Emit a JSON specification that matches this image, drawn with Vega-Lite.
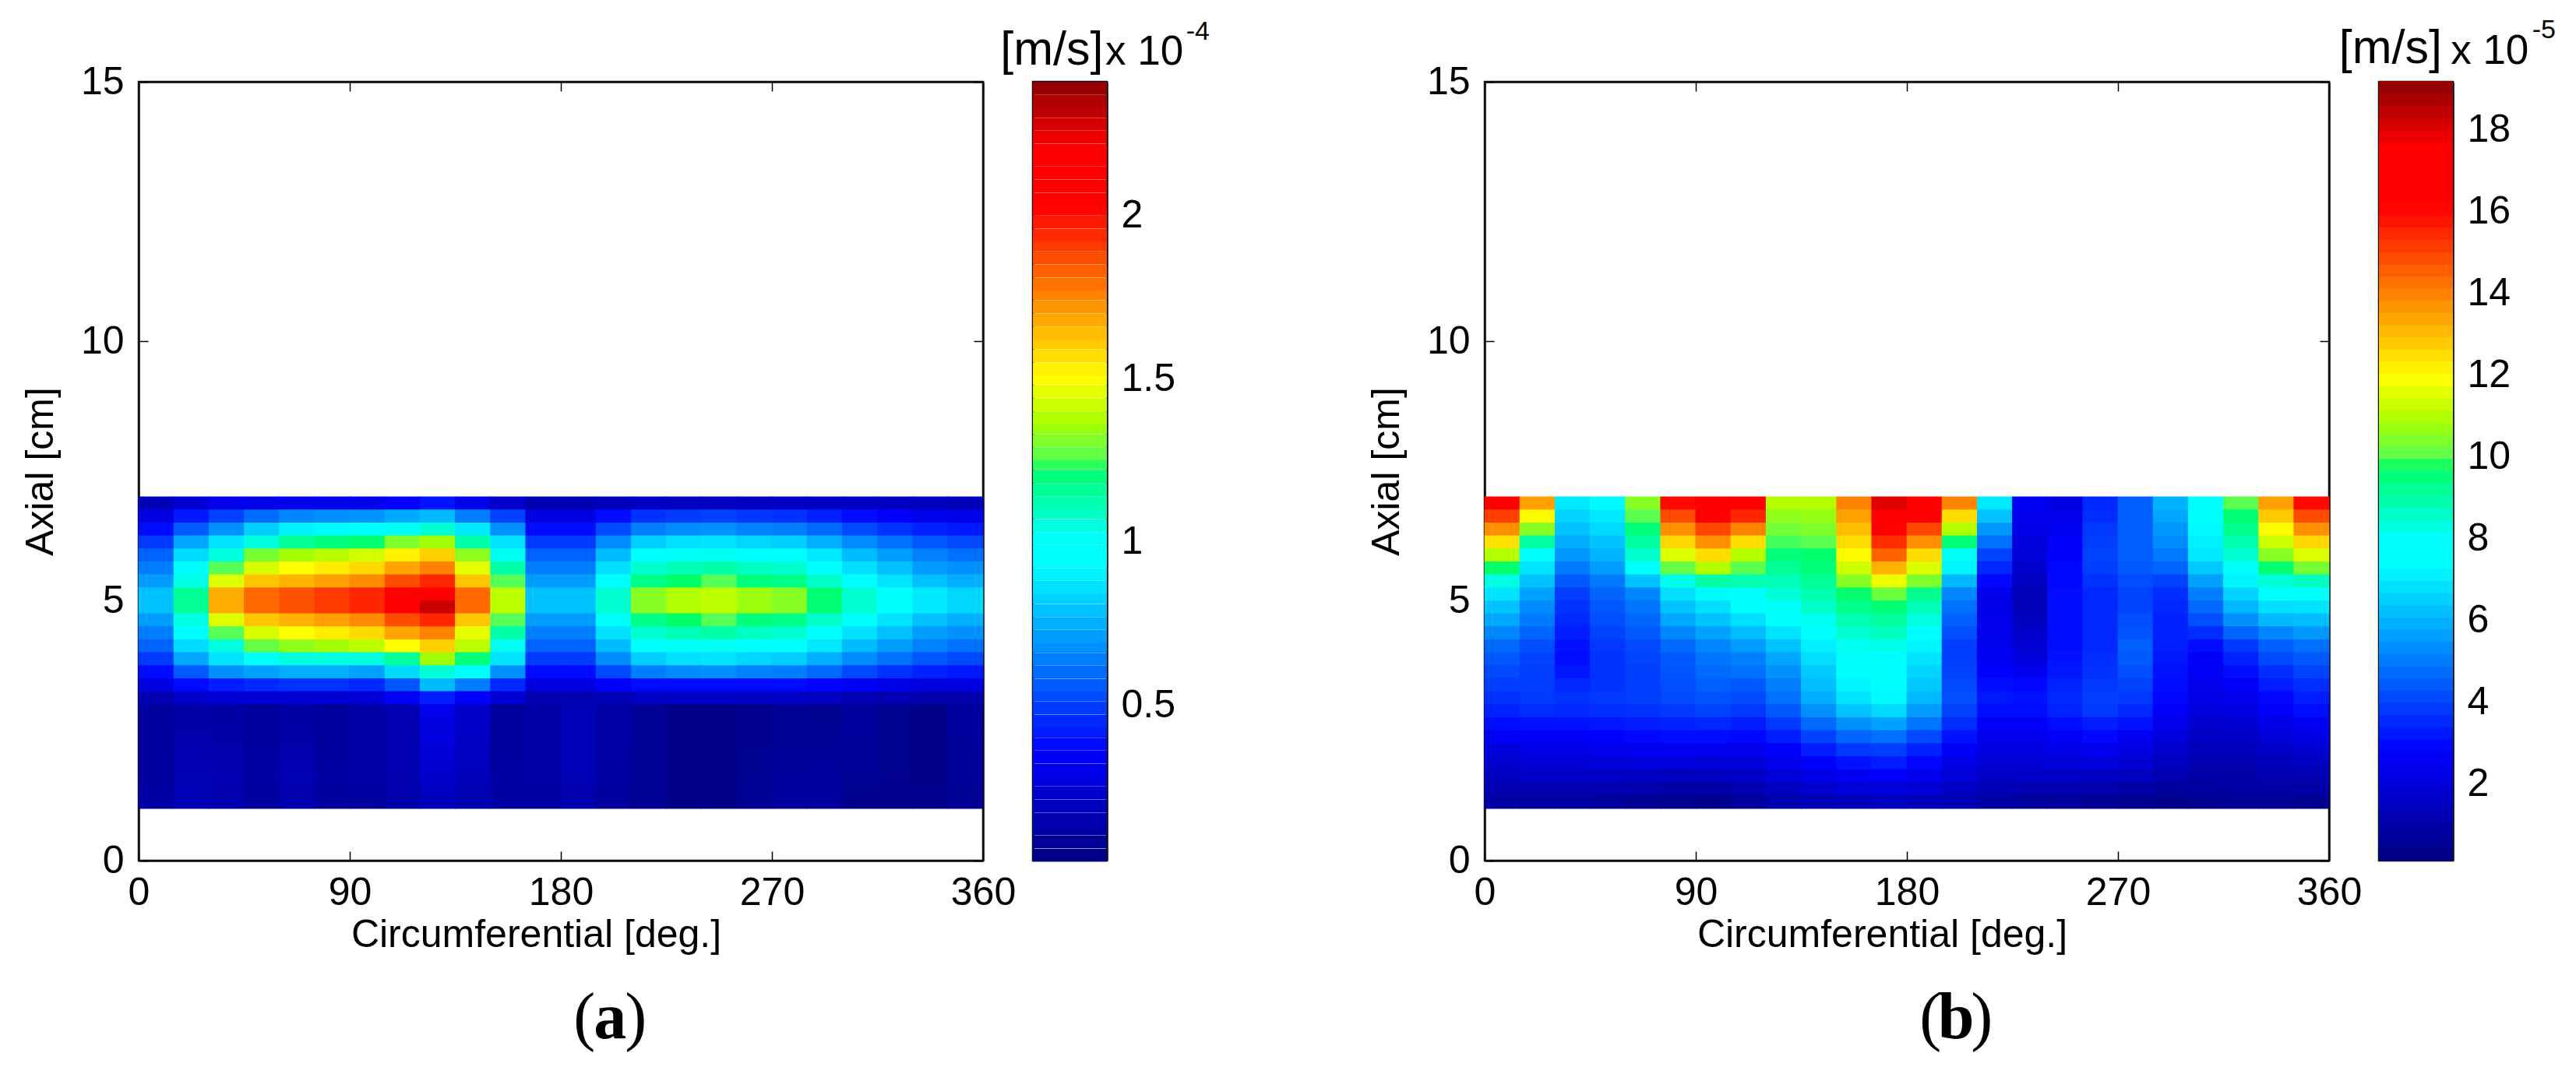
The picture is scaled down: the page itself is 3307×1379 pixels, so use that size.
{"$schema":"https://vega.github.io/schema/vega-lite/v6.json","background":"white","padding":{"left":26,"top":20,"right":0,"bottom":0},"config":{"view":{"stroke":"#111","strokeWidth":2.5},"font":"Liberation Sans","axis":{"labelFont":"Liberation Sans","titleFont":"Liberation Sans","labelFontSize":50,"titleFontSize":50,"labelColor":"#000","titleColor":"#000","tickColor":"#000","tickWidth":1.5,"domainColor":"#111","domainWidth":2.5,"grid":false,"labelOverlap":false,"labelBound":false,"labelFlush":false,"titleFontWeight":"normal","zindex":1}},"bounds":"flush","spacing":64,"resolve":{"scale":{"color":"independent"}},"datasets":{"ha":[
{"c":7.5,"a":6.88,"v":0.17},{"c":22.5,"a":6.88,"v":0.25},{"c":37.5,"a":6.88,"v":0.3},{"c":52.5,"a":6.88,"v":0.3},{"c":67.5,"a":6.88,"v":0.3},{"c":82.5,"a":6.88,"v":0.3},{"c":97.5,"a":6.88,"v":0.3},{"c":112.5,"a":6.88,"v":0.35},{"c":127.5,"a":6.88,"v":0.4},{"c":142.5,"a":6.88,"v":0.3},{"c":157.5,"a":6.88,"v":0.22},{"c":172.5,"a":6.88,"v":0.15},{"c":187.5,"a":6.88,"v":0.15},{"c":202.5,"a":6.88,"v":0.18},{"c":217.5,"a":6.88,"v":0.2},{"c":232.5,"a":6.88,"v":0.2},{"c":247.5,"a":6.88,"v":0.2},{"c":262.5,"a":6.88,"v":0.2},{"c":277.5,"a":6.88,"v":0.2},{"c":292.5,"a":6.88,"v":0.2},{"c":307.5,"a":6.88,"v":0.2},{"c":322.5,"a":6.88,"v":0.2},{"c":337.5,"a":6.88,"v":0.19},{"c":352.5,"a":6.88,"v":0.18},
{"c":7.5,"a":6.63,"v":0.28},{"c":22.5,"a":6.63,"v":0.41},{"c":37.5,"a":6.63,"v":0.5},{"c":52.5,"a":6.63,"v":0.6},{"c":67.5,"a":6.63,"v":0.66},{"c":82.5,"a":6.63,"v":0.68},{"c":97.5,"a":6.63,"v":0.69},{"c":112.5,"a":6.63,"v":0.74},{"c":127.5,"a":6.63,"v":0.78},{"c":142.5,"a":6.63,"v":0.64},{"c":157.5,"a":6.63,"v":0.5},{"c":172.5,"a":6.63,"v":0.28},{"c":187.5,"a":6.63,"v":0.28},{"c":202.5,"a":6.63,"v":0.38},{"c":217.5,"a":6.63,"v":0.47},{"c":232.5,"a":6.63,"v":0.49},{"c":247.5,"a":6.63,"v":0.5},{"c":262.5,"a":6.63,"v":0.48},{"c":277.5,"a":6.63,"v":0.47},{"c":292.5,"a":6.63,"v":0.43},{"c":307.5,"a":6.63,"v":0.38},{"c":322.5,"a":6.63,"v":0.35},{"c":337.5,"a":6.63,"v":0.31},{"c":352.5,"a":6.63,"v":0.3},
{"c":7.5,"a":6.38,"v":0.38},{"c":22.5,"a":6.38,"v":0.56},{"c":37.5,"a":6.38,"v":0.68},{"c":52.5,"a":6.38,"v":0.82},{"c":67.5,"a":6.38,"v":0.9},{"c":82.5,"a":6.38,"v":0.92},{"c":97.5,"a":6.38,"v":0.95},{"c":112.5,"a":6.38,"v":1.01},{"c":127.5,"a":6.38,"v":1.06},{"c":142.5,"a":6.38,"v":0.88},{"c":157.5,"a":6.38,"v":0.68},{"c":172.5,"a":6.38,"v":0.38},{"c":187.5,"a":6.38,"v":0.38},{"c":202.5,"a":6.38,"v":0.52},{"c":217.5,"a":6.38,"v":0.64},{"c":232.5,"a":6.38,"v":0.67},{"c":247.5,"a":6.38,"v":0.68},{"c":262.5,"a":6.38,"v":0.65},{"c":277.5,"a":6.38,"v":0.64},{"c":292.5,"a":6.38,"v":0.59},{"c":307.5,"a":6.38,"v":0.52},{"c":322.5,"a":6.38,"v":0.47},{"c":337.5,"a":6.38,"v":0.43},{"c":352.5,"a":6.38,"v":0.41},
{"c":7.5,"a":6.13,"v":0.49},{"c":22.5,"a":6.13,"v":0.73},{"c":37.5,"a":6.13,"v":0.87},{"c":52.5,"a":6.13,"v":1.05},{"c":67.5,"a":6.13,"v":1.16},{"c":82.5,"a":6.13,"v":1.19},{"c":97.5,"a":6.13,"v":1.22},{"c":112.5,"a":6.13,"v":1.31},{"c":127.5,"a":6.13,"v":1.36},{"c":142.5,"a":6.13,"v":1.13},{"c":157.5,"a":6.13,"v":0.87},{"c":172.5,"a":6.13,"v":0.49},{"c":187.5,"a":6.13,"v":0.49},{"c":202.5,"a":6.13,"v":0.67},{"c":217.5,"a":6.13,"v":0.82},{"c":232.5,"a":6.13,"v":0.86},{"c":247.5,"a":6.13,"v":0.87},{"c":262.5,"a":6.13,"v":0.84},{"c":277.5,"a":6.13,"v":0.82},{"c":292.5,"a":6.13,"v":0.75},{"c":307.5,"a":6.13,"v":0.67},{"c":322.5,"a":6.13,"v":0.61},{"c":337.5,"a":6.13,"v":0.55},{"c":352.5,"a":6.13,"v":0.52},
{"c":7.5,"a":5.88,"v":0.58},{"c":22.5,"a":5.88,"v":0.85},{"c":37.5,"a":5.88,"v":1.05},{"c":52.5,"a":5.88,"v":1.3},{"c":67.5,"a":5.88,"v":1.36},{"c":82.5,"a":5.88,"v":1.39},{"c":97.5,"a":5.88,"v":1.43},{"c":112.5,"a":5.88,"v":1.53},{"c":127.5,"a":5.88,"v":1.6},{"c":142.5,"a":5.88,"v":1.33},{"c":157.5,"a":5.88,"v":1.02},{"c":172.5,"a":5.88,"v":0.58},{"c":187.5,"a":5.88,"v":0.58},{"c":202.5,"a":5.88,"v":0.78},{"c":217.5,"a":5.88,"v":0.97},{"c":232.5,"a":5.88,"v":1.01},{"c":247.5,"a":5.88,"v":1.02},{"c":262.5,"a":5.88,"v":0.99},{"c":277.5,"a":5.88,"v":0.97},{"c":292.5,"a":5.88,"v":0.88},{"c":307.5,"a":5.88,"v":0.78},{"c":322.5,"a":5.88,"v":0.71},{"c":337.5,"a":5.88,"v":0.65},{"c":352.5,"a":5.88,"v":0.61},
{"c":7.5,"a":5.63,"v":0.64},{"c":22.5,"a":5.63,"v":0.94},{"c":37.5,"a":5.63,"v":1.25},{"c":52.5,"a":5.63,"v":1.44},{"c":67.5,"a":5.63,"v":1.5},{"c":82.5,"a":5.63,"v":1.54},{"c":97.5,"a":5.63,"v":1.58},{"c":112.5,"a":5.63,"v":1.69},{"c":127.5,"a":5.63,"v":1.76},{"c":142.5,"a":5.63,"v":1.46},{"c":157.5,"a":5.63,"v":1.13},{"c":172.5,"a":5.63,"v":0.64},{"c":187.5,"a":5.63,"v":0.64},{"c":202.5,"a":5.63,"v":0.86},{"c":217.5,"a":5.63,"v":1.07},{"c":232.5,"a":5.63,"v":1.11},{"c":247.5,"a":5.63,"v":1.13},{"c":262.5,"a":5.63,"v":1.09},{"c":277.5,"a":5.63,"v":1.07},{"c":292.5,"a":5.63,"v":0.98},{"c":307.5,"a":5.63,"v":0.86},{"c":322.5,"a":5.63,"v":0.79},{"c":337.5,"a":5.63,"v":0.71},{"c":352.5,"a":5.63,"v":0.68},
{"c":7.5,"a":5.38,"v":0.71},{"c":22.5,"a":5.38,"v":1.04},{"c":37.5,"a":5.38,"v":1.45},{"c":52.5,"a":5.38,"v":1.62},{"c":67.5,"a":5.38,"v":1.66},{"c":82.5,"a":5.38,"v":1.7},{"c":97.5,"a":5.38,"v":1.74},{"c":112.5,"a":5.38,"v":1.87},{"c":127.5,"a":5.38,"v":1.95},{"c":142.5,"a":5.38,"v":1.62},{"c":157.5,"a":5.38,"v":1.25},{"c":172.5,"a":5.38,"v":0.71},{"c":187.5,"a":5.38,"v":0.71},{"c":202.5,"a":5.38,"v":0.95},{"c":217.5,"a":5.38,"v":1.18},{"c":232.5,"a":5.38,"v":1.23},{"c":247.5,"a":5.38,"v":1.25},{"c":262.5,"a":5.38,"v":1.2},{"c":277.5,"a":5.38,"v":1.18},{"c":292.5,"a":5.38,"v":1.08},{"c":307.5,"a":5.38,"v":0.95},{"c":322.5,"a":5.38,"v":0.87},{"c":337.5,"a":5.38,"v":0.79},{"c":352.5,"a":5.38,"v":0.75},
{"c":7.5,"a":5.13,"v":0.79},{"c":22.5,"a":5.13,"v":1.16},{"c":37.5,"a":5.13,"v":1.67},{"c":52.5,"a":5.13,"v":1.81},{"c":67.5,"a":5.13,"v":1.86},{"c":82.5,"a":5.13,"v":1.91},{"c":97.5,"a":5.13,"v":1.95},{"c":112.5,"a":5.13,"v":2.09},{"c":127.5,"a":5.13,"v":2.19},{"c":142.5,"a":5.13,"v":1.81},{"c":157.5,"a":5.13,"v":1.4},{"c":172.5,"a":5.13,"v":0.79},{"c":187.5,"a":5.13,"v":0.79},{"c":202.5,"a":5.13,"v":1.07},{"c":217.5,"a":5.13,"v":1.32},{"c":232.5,"a":5.13,"v":1.38},{"c":247.5,"a":5.13,"v":1.4},{"c":262.5,"a":5.13,"v":1.35},{"c":277.5,"a":5.13,"v":1.32},{"c":292.5,"a":5.13,"v":1.21},{"c":307.5,"a":5.13,"v":1.07},{"c":322.5,"a":5.13,"v":0.98},{"c":337.5,"a":5.13,"v":0.88},{"c":352.5,"a":5.13,"v":0.84},
{"c":7.5,"a":4.88,"v":0.79},{"c":22.5,"a":4.88,"v":1.16},{"c":37.5,"a":4.88,"v":1.67},{"c":52.5,"a":4.88,"v":1.81},{"c":67.5,"a":4.88,"v":1.86},{"c":82.5,"a":4.88,"v":1.91},{"c":97.5,"a":4.88,"v":1.95},{"c":112.5,"a":4.88,"v":2.09},{"c":127.5,"a":4.88,"v":2.3},{"c":142.5,"a":4.88,"v":1.81},{"c":157.5,"a":4.88,"v":1.4},{"c":172.5,"a":4.88,"v":0.79},{"c":187.5,"a":4.88,"v":0.79},{"c":202.5,"a":4.88,"v":1.07},{"c":217.5,"a":4.88,"v":1.32},{"c":232.5,"a":4.88,"v":1.38},{"c":247.5,"a":4.88,"v":1.4},{"c":262.5,"a":4.88,"v":1.35},{"c":277.5,"a":4.88,"v":1.32},{"c":292.5,"a":4.88,"v":1.21},{"c":307.5,"a":4.88,"v":1.07},{"c":322.5,"a":4.88,"v":0.98},{"c":337.5,"a":4.88,"v":0.88},{"c":352.5,"a":4.88,"v":0.84},
{"c":7.5,"a":4.63,"v":0.71},{"c":22.5,"a":4.63,"v":1.04},{"c":37.5,"a":4.63,"v":1.45},{"c":52.5,"a":4.63,"v":1.62},{"c":67.5,"a":4.63,"v":1.66},{"c":82.5,"a":4.63,"v":1.7},{"c":97.5,"a":4.63,"v":1.74},{"c":112.5,"a":4.63,"v":1.87},{"c":127.5,"a":4.63,"v":1.95},{"c":142.5,"a":4.63,"v":1.62},{"c":157.5,"a":4.63,"v":1.25},{"c":172.5,"a":4.63,"v":0.71},{"c":187.5,"a":4.63,"v":0.71},{"c":202.5,"a":4.63,"v":0.95},{"c":217.5,"a":4.63,"v":1.18},{"c":232.5,"a":4.63,"v":1.23},{"c":247.5,"a":4.63,"v":1.25},{"c":262.5,"a":4.63,"v":1.2},{"c":277.5,"a":4.63,"v":1.18},{"c":292.5,"a":4.63,"v":1.08},{"c":307.5,"a":4.63,"v":0.95},{"c":322.5,"a":4.63,"v":0.87},{"c":337.5,"a":4.63,"v":0.79},{"c":352.5,"a":4.63,"v":0.75},
{"c":7.5,"a":4.38,"v":0.64},{"c":22.5,"a":4.38,"v":0.94},{"c":37.5,"a":4.38,"v":1.25},{"c":52.5,"a":4.38,"v":1.44},{"c":67.5,"a":4.38,"v":1.5},{"c":82.5,"a":4.38,"v":1.54},{"c":97.5,"a":4.38,"v":1.58},{"c":112.5,"a":4.38,"v":1.69},{"c":127.5,"a":4.38,"v":1.76},{"c":142.5,"a":4.38,"v":1.46},{"c":157.5,"a":4.38,"v":1.13},{"c":172.5,"a":4.38,"v":0.64},{"c":187.5,"a":4.38,"v":0.64},{"c":202.5,"a":4.38,"v":0.86},{"c":217.5,"a":4.38,"v":1.07},{"c":232.5,"a":4.38,"v":1.11},{"c":247.5,"a":4.38,"v":1.13},{"c":262.5,"a":4.38,"v":1.09},{"c":277.5,"a":4.38,"v":1.07},{"c":292.5,"a":4.38,"v":0.98},{"c":307.5,"a":4.38,"v":0.86},{"c":322.5,"a":4.38,"v":0.79},{"c":337.5,"a":4.38,"v":0.71},{"c":352.5,"a":4.38,"v":0.68},
{"c":7.5,"a":4.13,"v":0.58},{"c":22.5,"a":4.13,"v":0.85},{"c":37.5,"a":4.13,"v":1.05},{"c":52.5,"a":4.13,"v":1.27},{"c":67.5,"a":4.13,"v":1.33},{"c":82.5,"a":4.13,"v":1.36},{"c":97.5,"a":4.13,"v":1.4},{"c":112.5,"a":4.13,"v":1.5},{"c":127.5,"a":4.13,"v":1.6},{"c":142.5,"a":4.13,"v":1.4},{"c":157.5,"a":4.13,"v":1.02},{"c":172.5,"a":4.13,"v":0.58},{"c":187.5,"a":4.13,"v":0.58},{"c":202.5,"a":4.13,"v":0.78},{"c":217.5,"a":4.13,"v":0.97},{"c":232.5,"a":4.13,"v":1.01},{"c":247.5,"a":4.13,"v":1.02},{"c":262.5,"a":4.13,"v":0.99},{"c":277.5,"a":4.13,"v":0.97},{"c":292.5,"a":4.13,"v":0.88},{"c":307.5,"a":4.13,"v":0.78},{"c":322.5,"a":4.13,"v":0.71},{"c":337.5,"a":4.13,"v":0.65},{"c":352.5,"a":4.13,"v":0.61},
{"c":7.5,"a":3.88,"v":0.49},{"c":22.5,"a":3.88,"v":0.73},{"c":37.5,"a":3.88,"v":0.87},{"c":52.5,"a":3.88,"v":1.0},{"c":67.5,"a":3.88,"v":1.05},{"c":82.5,"a":3.88,"v":1.05},{"c":97.5,"a":3.88,"v":1.05},{"c":112.5,"a":3.88,"v":1.15},{"c":127.5,"a":3.88,"v":1.36},{"c":142.5,"a":3.88,"v":1.2},{"c":157.5,"a":3.88,"v":0.87},{"c":172.5,"a":3.88,"v":0.49},{"c":187.5,"a":3.88,"v":0.49},{"c":202.5,"a":3.88,"v":0.67},{"c":217.5,"a":3.88,"v":0.82},{"c":232.5,"a":3.88,"v":0.86},{"c":247.5,"a":3.88,"v":0.87},{"c":262.5,"a":3.88,"v":0.84},{"c":277.5,"a":3.88,"v":0.82},{"c":292.5,"a":3.88,"v":0.75},{"c":307.5,"a":3.88,"v":0.67},{"c":322.5,"a":3.88,"v":0.61},{"c":337.5,"a":3.88,"v":0.55},{"c":352.5,"a":3.88,"v":0.52},
{"c":7.5,"a":3.63,"v":0.38},{"c":22.5,"a":3.63,"v":0.56},{"c":37.5,"a":3.63,"v":0.68},{"c":52.5,"a":3.63,"v":0.72},{"c":67.5,"a":3.63,"v":0.75},{"c":82.5,"a":3.63,"v":0.75},{"c":97.5,"a":3.63,"v":0.72},{"c":112.5,"a":3.63,"v":0.85},{"c":127.5,"a":3.63,"v":1.06},{"c":142.5,"a":3.63,"v":0.95},{"c":157.5,"a":3.63,"v":0.68},{"c":172.5,"a":3.63,"v":0.38},{"c":187.5,"a":3.63,"v":0.38},{"c":202.5,"a":3.63,"v":0.52},{"c":217.5,"a":3.63,"v":0.64},{"c":232.5,"a":3.63,"v":0.67},{"c":247.5,"a":3.63,"v":0.68},{"c":262.5,"a":3.63,"v":0.65},{"c":277.5,"a":3.63,"v":0.64},{"c":292.5,"a":3.63,"v":0.59},{"c":307.5,"a":3.63,"v":0.52},{"c":322.5,"a":3.63,"v":0.47},{"c":337.5,"a":3.63,"v":0.43},{"c":352.5,"a":3.63,"v":0.41},
{"c":7.5,"a":3.38,"v":0.28},{"c":22.5,"a":3.38,"v":0.38},{"c":37.5,"a":3.38,"v":0.42},{"c":52.5,"a":3.38,"v":0.45},{"c":67.5,"a":3.38,"v":0.47},{"c":82.5,"a":3.38,"v":0.47},{"c":97.5,"a":3.38,"v":0.45},{"c":112.5,"a":3.38,"v":0.55},{"c":127.5,"a":3.38,"v":0.78},{"c":142.5,"a":3.38,"v":0.64},{"c":157.5,"a":3.38,"v":0.45},{"c":172.5,"a":3.38,"v":0.28},{"c":187.5,"a":3.38,"v":0.28},{"c":202.5,"a":3.38,"v":0.35},{"c":217.5,"a":3.38,"v":0.38},{"c":232.5,"a":3.38,"v":0.38},{"c":247.5,"a":3.38,"v":0.38},{"c":262.5,"a":3.38,"v":0.38},{"c":277.5,"a":3.38,"v":0.38},{"c":292.5,"a":3.38,"v":0.36},{"c":307.5,"a":3.38,"v":0.33},{"c":322.5,"a":3.38,"v":0.3},{"c":337.5,"a":3.38,"v":0.28},{"c":352.5,"a":3.38,"v":0.28},
{"c":7.5,"a":3.13,"v":0.15},{"c":22.5,"a":3.13,"v":0.22},{"c":37.5,"a":3.13,"v":0.25},{"c":52.5,"a":3.13,"v":0.25},{"c":67.5,"a":3.13,"v":0.25},{"c":82.5,"a":3.13,"v":0.25},{"c":97.5,"a":3.13,"v":0.25},{"c":112.5,"a":3.13,"v":0.33},{"c":127.5,"a":3.13,"v":0.42},{"c":142.5,"a":3.13,"v":0.35},{"c":157.5,"a":3.13,"v":0.25},{"c":172.5,"a":3.13,"v":0.15},{"c":187.5,"a":3.13,"v":0.15},{"c":202.5,"a":3.13,"v":0.17},{"c":217.5,"a":3.13,"v":0.2},{"c":232.5,"a":3.13,"v":0.2},{"c":247.5,"a":3.13,"v":0.2},{"c":262.5,"a":3.13,"v":0.2},{"c":277.5,"a":3.13,"v":0.2},{"c":292.5,"a":3.13,"v":0.2},{"c":307.5,"a":3.13,"v":0.17},{"c":322.5,"a":3.13,"v":0.15},{"c":337.5,"a":3.13,"v":0.14},{"c":352.5,"a":3.13,"v":0.14},
{"c":7.5,"a":2.88,"v":0.1},{"c":22.5,"a":2.88,"v":0.13},{"c":37.5,"a":2.88,"v":0.12},{"c":52.5,"a":2.88,"v":0.1},{"c":67.5,"a":2.88,"v":0.12},{"c":82.5,"a":2.88,"v":0.1},{"c":97.5,"a":2.88,"v":0.13},{"c":112.5,"a":2.88,"v":0.15},{"c":127.5,"a":2.88,"v":0.3},{"c":142.5,"a":2.88,"v":0.22},{"c":157.5,"a":2.88,"v":0.1},{"c":172.5,"a":2.88,"v":0.13},{"c":187.5,"a":2.88,"v":0.17},{"c":202.5,"a":2.88,"v":0.13},{"c":217.5,"a":2.88,"v":0.08},{"c":232.5,"a":2.88,"v":0.05},{"c":247.5,"a":2.88,"v":0.05},{"c":262.5,"a":2.88,"v":0.06},{"c":277.5,"a":2.88,"v":0.08},{"c":292.5,"a":2.88,"v":0.07},{"c":307.5,"a":2.88,"v":0.1},{"c":322.5,"a":2.88,"v":0.07},{"c":337.5,"a":2.88,"v":0.05},{"c":352.5,"a":2.88,"v":0.1},
{"c":7.5,"a":2.63,"v":0.1},{"c":22.5,"a":2.63,"v":0.13},{"c":37.5,"a":2.63,"v":0.12},{"c":52.5,"a":2.63,"v":0.1},{"c":67.5,"a":2.63,"v":0.12},{"c":82.5,"a":2.63,"v":0.1},{"c":97.5,"a":2.63,"v":0.13},{"c":112.5,"a":2.63,"v":0.15},{"c":127.5,"a":2.63,"v":0.28},{"c":142.5,"a":2.63,"v":0.22},{"c":157.5,"a":2.63,"v":0.1},{"c":172.5,"a":2.63,"v":0.13},{"c":187.5,"a":2.63,"v":0.17},{"c":202.5,"a":2.63,"v":0.13},{"c":217.5,"a":2.63,"v":0.08},{"c":232.5,"a":2.63,"v":0.05},{"c":247.5,"a":2.63,"v":0.05},{"c":262.5,"a":2.63,"v":0.06},{"c":277.5,"a":2.63,"v":0.08},{"c":292.5,"a":2.63,"v":0.07},{"c":307.5,"a":2.63,"v":0.1},{"c":322.5,"a":2.63,"v":0.07},{"c":337.5,"a":2.63,"v":0.05},{"c":352.5,"a":2.63,"v":0.1},
{"c":7.5,"a":2.38,"v":0.1},{"c":22.5,"a":2.38,"v":0.14},{"c":37.5,"a":2.38,"v":0.13},{"c":52.5,"a":2.38,"v":0.1},{"c":67.5,"a":2.38,"v":0.13},{"c":82.5,"a":2.38,"v":0.1},{"c":97.5,"a":2.38,"v":0.13},{"c":112.5,"a":2.38,"v":0.15},{"c":127.5,"a":2.38,"v":0.27},{"c":142.5,"a":2.38,"v":0.21},{"c":157.5,"a":2.38,"v":0.1},{"c":172.5,"a":2.38,"v":0.13},{"c":187.5,"a":2.38,"v":0.17},{"c":202.5,"a":2.38,"v":0.13},{"c":217.5,"a":2.38,"v":0.08},{"c":232.5,"a":2.38,"v":0.05},{"c":247.5,"a":2.38,"v":0.05},{"c":262.5,"a":2.38,"v":0.06},{"c":277.5,"a":2.38,"v":0.08},{"c":292.5,"a":2.38,"v":0.08},{"c":307.5,"a":2.38,"v":0.1},{"c":322.5,"a":2.38,"v":0.07},{"c":337.5,"a":2.38,"v":0.05},{"c":352.5,"a":2.38,"v":0.1},
{"c":7.5,"a":2.13,"v":0.1},{"c":22.5,"a":2.13,"v":0.15},{"c":37.5,"a":2.13,"v":0.14},{"c":52.5,"a":2.13,"v":0.11},{"c":67.5,"a":2.13,"v":0.14},{"c":82.5,"a":2.13,"v":0.11},{"c":97.5,"a":2.13,"v":0.13},{"c":112.5,"a":2.13,"v":0.15},{"c":127.5,"a":2.13,"v":0.25},{"c":142.5,"a":2.13,"v":0.2},{"c":157.5,"a":2.13,"v":0.11},{"c":172.5,"a":2.13,"v":0.13},{"c":187.5,"a":2.13,"v":0.17},{"c":202.5,"a":2.13,"v":0.13},{"c":217.5,"a":2.13,"v":0.08},{"c":232.5,"a":2.13,"v":0.05},{"c":247.5,"a":2.13,"v":0.05},{"c":262.5,"a":2.13,"v":0.07},{"c":277.5,"a":2.13,"v":0.09},{"c":292.5,"a":2.13,"v":0.09},{"c":307.5,"a":2.13,"v":0.09},{"c":322.5,"a":2.13,"v":0.07},{"c":337.5,"a":2.13,"v":0.05},{"c":352.5,"a":2.13,"v":0.09},
{"c":7.5,"a":1.88,"v":0.1},{"c":22.5,"a":1.88,"v":0.15},{"c":37.5,"a":1.88,"v":0.14},{"c":52.5,"a":1.88,"v":0.12},{"c":67.5,"a":1.88,"v":0.15},{"c":82.5,"a":1.88,"v":0.11},{"c":97.5,"a":1.88,"v":0.13},{"c":112.5,"a":1.88,"v":0.15},{"c":127.5,"a":1.88,"v":0.24},{"c":142.5,"a":1.88,"v":0.19},{"c":157.5,"a":1.88,"v":0.11},{"c":172.5,"a":1.88,"v":0.13},{"c":187.5,"a":1.88,"v":0.17},{"c":202.5,"a":1.88,"v":0.12},{"c":217.5,"a":1.88,"v":0.08},{"c":232.5,"a":1.88,"v":0.05},{"c":247.5,"a":1.88,"v":0.05},{"c":262.5,"a":1.88,"v":0.07},{"c":277.5,"a":1.88,"v":0.09},{"c":292.5,"a":1.88,"v":0.1},{"c":307.5,"a":1.88,"v":0.09},{"c":322.5,"a":1.88,"v":0.07},{"c":337.5,"a":1.88,"v":0.05},{"c":352.5,"a":1.88,"v":0.09},
{"c":7.5,"a":1.63,"v":0.1},{"c":22.5,"a":1.63,"v":0.16},{"c":37.5,"a":1.63,"v":0.15},{"c":52.5,"a":1.63,"v":0.12},{"c":67.5,"a":1.63,"v":0.16},{"c":82.5,"a":1.63,"v":0.12},{"c":97.5,"a":1.63,"v":0.13},{"c":112.5,"a":1.63,"v":0.15},{"c":127.5,"a":1.63,"v":0.22},{"c":142.5,"a":1.63,"v":0.18},{"c":157.5,"a":1.63,"v":0.12},{"c":172.5,"a":1.63,"v":0.13},{"c":187.5,"a":1.63,"v":0.17},{"c":202.5,"a":1.63,"v":0.12},{"c":217.5,"a":1.63,"v":0.08},{"c":232.5,"a":1.63,"v":0.05},{"c":247.5,"a":1.63,"v":0.05},{"c":262.5,"a":1.63,"v":0.07},{"c":277.5,"a":1.63,"v":0.1},{"c":292.5,"a":1.63,"v":0.11},{"c":307.5,"a":1.63,"v":0.08},{"c":322.5,"a":1.63,"v":0.07},{"c":337.5,"a":1.63,"v":0.05},{"c":352.5,"a":1.63,"v":0.09},
{"c":7.5,"a":1.38,"v":0.11},{"c":22.5,"a":1.38,"v":0.17},{"c":37.5,"a":1.38,"v":0.15},{"c":52.5,"a":1.38,"v":0.11},{"c":67.5,"a":1.38,"v":0.15},{"c":82.5,"a":1.38,"v":0.11},{"c":97.5,"a":1.38,"v":0.12},{"c":112.5,"a":1.38,"v":0.14},{"c":127.5,"a":1.38,"v":0.2},{"c":142.5,"a":1.38,"v":0.17},{"c":157.5,"a":1.38,"v":0.12},{"c":172.5,"a":1.38,"v":0.12},{"c":187.5,"a":1.38,"v":0.15},{"c":202.5,"a":1.38,"v":0.11},{"c":217.5,"a":1.38,"v":0.08},{"c":232.5,"a":1.38,"v":0.05},{"c":247.5,"a":1.38,"v":0.05},{"c":262.5,"a":1.38,"v":0.08},{"c":277.5,"a":1.38,"v":0.1},{"c":292.5,"a":1.38,"v":0.1},{"c":307.5,"a":1.38,"v":0.07},{"c":322.5,"a":1.38,"v":0.06},{"c":337.5,"a":1.38,"v":0.06},{"c":352.5,"a":1.38,"v":0.08},
{"c":7.5,"a":1.13,"v":0.12},{"c":22.5,"a":1.13,"v":0.17},{"c":37.5,"a":1.13,"v":0.14},{"c":52.5,"a":1.13,"v":0.1},{"c":67.5,"a":1.13,"v":0.14},{"c":82.5,"a":1.13,"v":0.1},{"c":97.5,"a":1.13,"v":0.1},{"c":112.5,"a":1.13,"v":0.13},{"c":127.5,"a":1.13,"v":0.18},{"c":142.5,"a":1.13,"v":0.15},{"c":157.5,"a":1.13,"v":0.12},{"c":172.5,"a":1.13,"v":0.12},{"c":187.5,"a":1.13,"v":0.14},{"c":202.5,"a":1.13,"v":0.1},{"c":217.5,"a":1.13,"v":0.08},{"c":232.5,"a":1.13,"v":0.05},{"c":247.5,"a":1.13,"v":0.05},{"c":262.5,"a":1.13,"v":0.08},{"c":277.5,"a":1.13,"v":0.1},{"c":292.5,"a":1.13,"v":0.1},{"c":307.5,"a":1.13,"v":0.06},{"c":322.5,"a":1.13,"v":0.06},{"c":337.5,"a":1.13,"v":0.06},{"c":352.5,"a":1.13,"v":0.08}],
"hb":[
{"c":7.5,"a":6.88,"v":16.5},{"c":22.5,"a":6.88,"v":13.5},{"c":37.5,"a":6.88,"v":7},{"c":52.5,"a":6.88,"v":7.3},{"c":67.5,"a":6.88,"v":10.5},{"c":82.5,"a":6.88,"v":16},{"c":97.5,"a":6.88,"v":17.5},{"c":112.5,"a":6.88,"v":17},{"c":127.5,"a":6.88,"v":11},{"c":142.5,"a":6.88,"v":11},{"c":157.5,"a":6.88,"v":14},{"c":172.5,"a":6.88,"v":18},{"c":187.5,"a":6.88,"v":17.5},{"c":202.5,"a":6.88,"v":14},{"c":217.5,"a":6.88,"v":7},{"c":232.5,"a":6.88,"v":2.5},{"c":247.5,"a":6.88,"v":2.2},{"c":262.5,"a":6.88,"v":3.5},{"c":277.5,"a":6.88,"v":4.5},{"c":292.5,"a":6.88,"v":6},{"c":307.5,"a":6.88,"v":7.5},{"c":322.5,"a":6.88,"v":10},{"c":337.5,"a":6.88,"v":13.5},{"c":352.5,"a":6.88,"v":16},
{"c":7.5,"a":6.63,"v":15.1},{"c":22.5,"a":6.63,"v":12},{"c":37.5,"a":6.63,"v":6.6},{"c":52.5,"a":6.63,"v":7},{"c":67.5,"a":6.63,"v":10},{"c":82.5,"a":6.63,"v":14.9},{"c":97.5,"a":6.63,"v":16.3},{"c":112.5,"a":6.63,"v":15.5},{"c":127.5,"a":6.63,"v":10.6},{"c":142.5,"a":6.63,"v":10.7},{"c":157.5,"a":6.63,"v":13.5},{"c":172.5,"a":6.63,"v":17.1},{"c":187.5,"a":6.63,"v":16.3},{"c":202.5,"a":6.63,"v":12.5},{"c":217.5,"a":6.63,"v":6.3},{"c":232.5,"a":6.63,"v":2.4},{"c":247.5,"a":6.63,"v":2.4},{"c":262.5,"a":6.63,"v":3.6},{"c":277.5,"a":6.63,"v":4.5},{"c":292.5,"a":6.63,"v":5.8},{"c":307.5,"a":6.63,"v":7.4},{"c":322.5,"a":6.63,"v":9.6},{"c":337.5,"a":6.63,"v":12.8},{"c":352.5,"a":6.63,"v":14.9},
{"c":7.5,"a":6.38,"v":13.8},{"c":22.5,"a":6.38,"v":10.5},{"c":37.5,"a":6.38,"v":6.3},{"c":52.5,"a":6.38,"v":6.7},{"c":67.5,"a":6.38,"v":9.5},{"c":82.5,"a":6.38,"v":13.8},{"c":97.5,"a":6.38,"v":15},{"c":112.5,"a":6.38,"v":14},{"c":127.5,"a":6.38,"v":10.3},{"c":142.5,"a":6.38,"v":10.4},{"c":157.5,"a":6.38,"v":13},{"c":172.5,"a":6.38,"v":16.3},{"c":187.5,"a":6.38,"v":15},{"c":202.5,"a":6.38,"v":11},{"c":217.5,"a":6.38,"v":5.5},{"c":232.5,"a":6.38,"v":2.3},{"c":247.5,"a":6.38,"v":2.5},{"c":262.5,"a":6.38,"v":3.8},{"c":277.5,"a":6.38,"v":4.5},{"c":292.5,"a":6.38,"v":5.5},{"c":307.5,"a":6.38,"v":7.3},{"c":322.5,"a":6.38,"v":9.3},{"c":337.5,"a":6.38,"v":12},{"c":352.5,"a":6.38,"v":13.8},
{"c":7.5,"a":6.13,"v":12.4},{"c":22.5,"a":6.13,"v":9},{"c":37.5,"a":6.13,"v":5.9},{"c":52.5,"a":6.13,"v":6.3},{"c":67.5,"a":6.13,"v":9},{"c":82.5,"a":6.13,"v":12.6},{"c":97.5,"a":6.13,"v":13.8},{"c":112.5,"a":6.13,"v":12.5},{"c":127.5,"a":6.13,"v":9.9},{"c":142.5,"a":6.13,"v":10},{"c":157.5,"a":6.13,"v":12.5},{"c":172.5,"a":6.13,"v":15.4},{"c":187.5,"a":6.13,"v":13.8},{"c":202.5,"a":6.13,"v":9.5},{"c":217.5,"a":6.13,"v":4.8},{"c":232.5,"a":6.13,"v":2.1},{"c":247.5,"a":6.13,"v":2.7},{"c":262.5,"a":6.13,"v":3.9},{"c":277.5,"a":6.13,"v":4.5},{"c":292.5,"a":6.13,"v":5.3},{"c":307.5,"a":6.13,"v":7.1},{"c":322.5,"a":6.13,"v":8.9},{"c":337.5,"a":6.13,"v":11.3},{"c":352.5,"a":6.13,"v":12.6},
{"c":7.5,"a":5.88,"v":11},{"c":22.5,"a":5.88,"v":7.5},{"c":37.5,"a":5.88,"v":5.5},{"c":52.5,"a":5.88,"v":6},{"c":67.5,"a":5.88,"v":8.5},{"c":82.5,"a":5.88,"v":11.5},{"c":97.5,"a":5.88,"v":12.5},{"c":112.5,"a":5.88,"v":11},{"c":127.5,"a":5.88,"v":9.5},{"c":142.5,"a":5.88,"v":9.7},{"c":157.5,"a":5.88,"v":12},{"c":172.5,"a":5.88,"v":14.5},{"c":187.5,"a":5.88,"v":12.5},{"c":202.5,"a":5.88,"v":8},{"c":217.5,"a":5.88,"v":4},{"c":232.5,"a":5.88,"v":2},{"c":247.5,"a":5.88,"v":2.8},{"c":262.5,"a":5.88,"v":4},{"c":277.5,"a":5.88,"v":4.5},{"c":292.5,"a":5.88,"v":5},{"c":307.5,"a":5.88,"v":7},{"c":322.5,"a":5.88,"v":8.5},{"c":337.5,"a":5.88,"v":10.5},{"c":352.5,"a":5.88,"v":11.5},
{"c":7.5,"a":5.63,"v":9.7},{"c":22.5,"a":5.63,"v":6.9},{"c":37.5,"a":5.63,"v":5},{"c":52.5,"a":5.63,"v":5.6},{"c":67.5,"a":5.63,"v":7.5},{"c":82.5,"a":5.63,"v":10.1},{"c":97.5,"a":5.63,"v":11},{"c":112.5,"a":5.63,"v":10},{"c":127.5,"a":5.63,"v":9.2},{"c":142.5,"a":5.63,"v":9.5},{"c":157.5,"a":5.63,"v":11.3},{"c":172.5,"a":5.63,"v":13.2},{"c":187.5,"a":5.63,"v":11.5},{"c":202.5,"a":5.63,"v":7.2},{"c":217.5,"a":5.63,"v":3.5},{"c":232.5,"a":5.63,"v":1.8},{"c":247.5,"a":5.63,"v":2.9},{"c":262.5,"a":5.63,"v":3.9},{"c":277.5,"a":5.63,"v":4.4},{"c":292.5,"a":5.63,"v":4.6},{"c":307.5,"a":5.63,"v":6.4},{"c":322.5,"a":5.63,"v":8},{"c":337.5,"a":5.63,"v":9.6},{"c":352.5,"a":5.63,"v":10.3},
{"c":7.5,"a":5.38,"v":8.3},{"c":22.5,"a":5.38,"v":6.3},{"c":37.5,"a":5.38,"v":4.4},{"c":52.5,"a":5.38,"v":5},{"c":67.5,"a":5.38,"v":6.3},{"c":82.5,"a":5.38,"v":8.2},{"c":97.5,"a":5.38,"v":9},{"c":112.5,"a":5.38,"v":8.9},{"c":127.5,"a":5.38,"v":8.8},{"c":142.5,"a":5.38,"v":9.2},{"c":157.5,"a":5.38,"v":10.5},{"c":172.5,"a":5.38,"v":11.7},{"c":187.5,"a":5.38,"v":10.4},{"c":202.5,"a":5.38,"v":6.1},{"c":217.5,"a":5.38,"v":2.9},{"c":232.5,"a":5.38,"v":1.5},{"c":247.5,"a":5.38,"v":2.9},{"c":262.5,"a":5.38,"v":3.7},{"c":277.5,"a":5.38,"v":4.2},{"c":292.5,"a":5.38,"v":4},{"c":307.5,"a":5.38,"v":5.7},{"c":322.5,"a":5.38,"v":7.2},{"c":337.5,"a":5.38,"v":8.4},{"c":352.5,"a":5.38,"v":8.7},
{"c":7.5,"a":5.13,"v":6.9},{"c":22.5,"a":5.13,"v":5.7},{"c":37.5,"a":5.13,"v":3.9},{"c":52.5,"a":5.13,"v":4.6},{"c":67.5,"a":5.13,"v":5.2},{"c":82.5,"a":5.13,"v":6.8},{"c":97.5,"a":5.13,"v":7.3},{"c":112.5,"a":5.13,"v":7.9},{"c":127.5,"a":5.13,"v":8.4},{"c":142.5,"a":5.13,"v":8.9},{"c":157.5,"a":5.13,"v":9.7},{"c":172.5,"a":5.13,"v":10.2},{"c":187.5,"a":5.13,"v":9.3},{"c":202.5,"a":5.13,"v":5.2},{"c":217.5,"a":5.13,"v":2.4},{"c":232.5,"a":5.13,"v":1.3},{"c":247.5,"a":5.13,"v":3},{"c":262.5,"a":5.13,"v":3.5},{"c":277.5,"a":5.13,"v":4},{"c":292.5,"a":5.13,"v":3.6},{"c":307.5,"a":5.13,"v":5.1},{"c":322.5,"a":5.13,"v":6.6},{"c":337.5,"a":5.13,"v":7.4},{"c":352.5,"a":5.13,"v":7.5},
{"c":7.5,"a":4.88,"v":6.3},{"c":22.5,"a":4.88,"v":5.3},{"c":37.5,"a":4.88,"v":3.7},{"c":52.5,"a":4.88,"v":4.4},{"c":67.5,"a":4.88,"v":4.9},{"c":82.5,"a":4.88,"v":6.3},{"c":97.5,"a":4.88,"v":6.8},{"c":112.5,"a":4.88,"v":7.4},{"c":127.5,"a":4.88,"v":8},{"c":142.5,"a":4.88,"v":8.6},{"c":157.5,"a":4.88,"v":9.3},{"c":172.5,"a":4.88,"v":9.6},{"c":187.5,"a":4.88,"v":8.8},{"c":202.5,"a":4.88,"v":4.8},{"c":217.5,"a":4.88,"v":2.3},{"c":232.5,"a":4.88,"v":1.3},{"c":247.5,"a":4.88,"v":3},{"c":262.5,"a":4.88,"v":3.5},{"c":277.5,"a":4.88,"v":4},{"c":292.5,"a":4.88,"v":3.5},{"c":307.5,"a":4.88,"v":4.7},{"c":322.5,"a":4.88,"v":6.1},{"c":337.5,"a":4.88,"v":6.8},{"c":352.5,"a":4.88,"v":6.9},
{"c":7.5,"a":4.63,"v":5.8},{"c":22.5,"a":4.63,"v":5},{"c":37.5,"a":4.63,"v":3.5},{"c":52.5,"a":4.63,"v":4.2},{"c":67.5,"a":4.63,"v":4.6},{"c":82.5,"a":4.63,"v":5.8},{"c":97.5,"a":4.63,"v":6.3},{"c":112.5,"a":4.63,"v":6.8},{"c":127.5,"a":4.63,"v":7.6},{"c":142.5,"a":4.63,"v":8.1},{"c":157.5,"a":4.63,"v":8.9},{"c":172.5,"a":4.63,"v":9.1},{"c":187.5,"a":4.63,"v":8.3},{"c":202.5,"a":4.63,"v":4.5},{"c":217.5,"a":4.63,"v":2.4},{"c":232.5,"a":4.63,"v":1.5},{"c":247.5,"a":4.63,"v":3},{"c":262.5,"a":4.63,"v":3.5},{"c":277.5,"a":4.63,"v":4.2},{"c":292.5,"a":4.63,"v":3.4},{"c":307.5,"a":4.63,"v":4.2},{"c":322.5,"a":4.63,"v":5.4},{"c":337.5,"a":4.63,"v":6.1},{"c":352.5,"a":4.63,"v":6.2},
{"c":7.5,"a":4.38,"v":5.2},{"c":22.5,"a":4.38,"v":4.6},{"c":37.5,"a":4.38,"v":3.3},{"c":52.5,"a":4.38,"v":4},{"c":67.5,"a":4.38,"v":4.4},{"c":82.5,"a":4.38,"v":5.2},{"c":97.5,"a":4.38,"v":5.7},{"c":112.5,"a":4.38,"v":6.2},{"c":127.5,"a":4.38,"v":6.9},{"c":142.5,"a":4.38,"v":7.6},{"c":157.5,"a":4.38,"v":8.5},{"c":172.5,"a":4.38,"v":8.7},{"c":187.5,"a":4.38,"v":7.8},{"c":202.5,"a":4.38,"v":4.2},{"c":217.5,"a":4.38,"v":2.4},{"c":232.5,"a":4.38,"v":1.7},{"c":247.5,"a":4.38,"v":3},{"c":262.5,"a":4.38,"v":3.5},{"c":277.5,"a":4.38,"v":4.3},{"c":292.5,"a":4.38,"v":3.4},{"c":307.5,"a":4.38,"v":3.6},{"c":322.5,"a":4.38,"v":4.6},{"c":337.5,"a":4.38,"v":5.2},{"c":352.5,"a":4.38,"v":5.5},
{"c":7.5,"a":4.13,"v":4.7},{"c":22.5,"a":4.13,"v":4.2},{"c":37.5,"a":4.13,"v":3.1},{"c":52.5,"a":4.13,"v":3.8},{"c":67.5,"a":4.13,"v":4.1},{"c":82.5,"a":4.13,"v":4.7},{"c":97.5,"a":4.13,"v":5.2},{"c":112.5,"a":4.13,"v":5.6},{"c":127.5,"a":4.13,"v":6.3},{"c":142.5,"a":4.13,"v":7.1},{"c":157.5,"a":4.13,"v":8.1},{"c":172.5,"a":4.13,"v":8.2},{"c":187.5,"a":4.13,"v":7.2},{"c":202.5,"a":4.13,"v":3.9},{"c":217.5,"a":4.13,"v":2.5},{"c":232.5,"a":4.13,"v":1.9},{"c":247.5,"a":4.13,"v":3},{"c":262.5,"a":4.13,"v":3.5},{"c":277.5,"a":4.13,"v":4.5},{"c":292.5,"a":4.13,"v":3.3},{"c":307.5,"a":4.13,"v":3},{"c":322.5,"a":4.13,"v":3.8},{"c":337.5,"a":4.13,"v":4.5},{"c":352.5,"a":4.13,"v":4.8},
{"c":7.5,"a":3.88,"v":4.4},{"c":22.5,"a":3.88,"v":4},{"c":37.5,"a":3.88,"v":3},{"c":52.5,"a":3.88,"v":3.7},{"c":67.5,"a":3.88,"v":4},{"c":82.5,"a":3.88,"v":4.4},{"c":97.5,"a":3.88,"v":4.9},{"c":112.5,"a":3.88,"v":5.1},{"c":127.5,"a":3.88,"v":5.8},{"c":142.5,"a":3.88,"v":6.8},{"c":157.5,"a":3.88,"v":7.9},{"c":172.5,"a":3.88,"v":7.9},{"c":187.5,"a":3.88,"v":6.9},{"c":202.5,"a":3.88,"v":3.9},{"c":217.5,"a":3.88,"v":2.6},{"c":232.5,"a":3.88,"v":2.1},{"c":247.5,"a":3.88,"v":3.1},{"c":262.5,"a":3.88,"v":3.6},{"c":277.5,"a":3.88,"v":4.4},{"c":292.5,"a":3.88,"v":3.2},{"c":307.5,"a":3.88,"v":2.7},{"c":322.5,"a":3.88,"v":3.4},{"c":337.5,"a":3.88,"v":4.1},{"c":352.5,"a":3.88,"v":4.4},
{"c":7.5,"a":3.63,"v":4.1},{"c":22.5,"a":3.63,"v":3.9},{"c":37.5,"a":3.63,"v":3.2},{"c":52.5,"a":3.63,"v":3.7},{"c":67.5,"a":3.63,"v":3.9},{"c":82.5,"a":3.63,"v":4.3},{"c":97.5,"a":3.63,"v":4.7},{"c":112.5,"a":3.63,"v":4.8},{"c":127.5,"a":3.63,"v":5.4},{"c":142.5,"a":3.63,"v":6.4},{"c":157.5,"a":3.63,"v":7.5},{"c":172.5,"a":3.63,"v":7.7},{"c":187.5,"a":3.63,"v":6.6},{"c":202.5,"a":3.63,"v":4},{"c":217.5,"a":3.63,"v":2.8},{"c":232.5,"a":3.63,"v":2.5},{"c":247.5,"a":3.63,"v":3.2},{"c":262.5,"a":3.63,"v":3.7},{"c":277.5,"a":3.63,"v":4.2},{"c":292.5,"a":3.63,"v":3.1},{"c":307.5,"a":3.63,"v":2.6},{"c":322.5,"a":3.63,"v":3},{"c":337.5,"a":3.63,"v":3.6},{"c":352.5,"a":3.63,"v":4},
{"c":7.5,"a":3.38,"v":3.9},{"c":22.5,"a":3.38,"v":3.9},{"c":37.5,"a":3.38,"v":3.5},{"c":52.5,"a":3.38,"v":3.7},{"c":67.5,"a":3.38,"v":3.9},{"c":82.5,"a":3.38,"v":4.2},{"c":97.5,"a":3.38,"v":4.5},{"c":112.5,"a":3.38,"v":4.4},{"c":127.5,"a":3.38,"v":5.1},{"c":142.5,"a":3.38,"v":6.2},{"c":157.5,"a":3.38,"v":7.2},{"c":172.5,"a":3.38,"v":7.5},{"c":187.5,"a":3.38,"v":6.4},{"c":202.5,"a":3.38,"v":4.1},{"c":217.5,"a":3.38,"v":3},{"c":232.5,"a":3.38,"v":2.9},{"c":247.5,"a":3.38,"v":3.4},{"c":262.5,"a":3.38,"v":3.8},{"c":277.5,"a":3.38,"v":4},{"c":292.5,"a":3.38,"v":3},{"c":307.5,"a":3.38,"v":2.4},{"c":322.5,"a":3.38,"v":2.7},{"c":337.5,"a":3.38,"v":3.3},{"c":352.5,"a":3.38,"v":3.6},
{"c":7.5,"a":3.13,"v":3.7},{"c":22.5,"a":3.13,"v":3.8},{"c":37.5,"a":3.13,"v":3.7},{"c":52.5,"a":3.13,"v":3.8},{"c":67.5,"a":3.13,"v":3.9},{"c":82.5,"a":3.13,"v":4.1},{"c":97.5,"a":3.13,"v":4.3},{"c":112.5,"a":3.13,"v":4.1},{"c":127.5,"a":3.13,"v":4.8},{"c":142.5,"a":3.13,"v":5.9},{"c":157.5,"a":3.13,"v":6.9},{"c":172.5,"a":3.13,"v":7.3},{"c":187.5,"a":3.13,"v":6.1},{"c":202.5,"a":3.13,"v":4.2},{"c":217.5,"a":3.13,"v":3.2},{"c":232.5,"a":3.13,"v":3.1},{"c":247.5,"a":3.13,"v":3.5},{"c":262.5,"a":3.13,"v":3.9},{"c":277.5,"a":3.13,"v":3.8},{"c":292.5,"a":3.13,"v":2.9},{"c":307.5,"a":3.13,"v":2.3},{"c":322.5,"a":3.13,"v":2.4},{"c":337.5,"a":3.13,"v":2.9},{"c":352.5,"a":3.13,"v":3.3},
{"c":7.5,"a":2.88,"v":3.4},{"c":22.5,"a":2.88,"v":3.6},{"c":37.5,"a":2.88,"v":3.5},{"c":52.5,"a":2.88,"v":3.6},{"c":67.5,"a":2.88,"v":3.7},{"c":82.5,"a":2.88,"v":3.8},{"c":97.5,"a":2.88,"v":4},{"c":112.5,"a":2.88,"v":3.8},{"c":127.5,"a":2.88,"v":4.4},{"c":142.5,"a":2.88,"v":5.4},{"c":157.5,"a":2.88,"v":6.3},{"c":172.5,"a":2.88,"v":6.7},{"c":187.5,"a":2.88,"v":5.6},{"c":202.5,"a":2.88,"v":4},{"c":217.5,"a":2.88,"v":3},{"c":232.5,"a":2.88,"v":3},{"c":247.5,"a":2.88,"v":3.4},{"c":262.5,"a":2.88,"v":3.8},{"c":277.5,"a":2.88,"v":3.5},{"c":292.5,"a":2.88,"v":2.7},{"c":307.5,"a":2.88,"v":2.1},{"c":322.5,"a":2.88,"v":2.2},{"c":337.5,"a":2.88,"v":2.7},{"c":352.5,"a":2.88,"v":3},
{"c":7.5,"a":2.63,"v":3},{"c":22.5,"a":2.63,"v":3.1},{"c":37.5,"a":2.63,"v":3.1},{"c":52.5,"a":2.63,"v":3.2},{"c":67.5,"a":2.63,"v":3.3},{"c":82.5,"a":2.63,"v":3.4},{"c":97.5,"a":2.63,"v":3.5},{"c":112.5,"a":2.63,"v":3.3},{"c":127.5,"a":2.63,"v":3.8},{"c":142.5,"a":2.63,"v":4.7},{"c":157.5,"a":2.63,"v":5.4},{"c":172.5,"a":2.63,"v":5.7},{"c":187.5,"a":2.63,"v":4.9},{"c":202.5,"a":2.63,"v":3.6},{"c":217.5,"a":2.63,"v":2.7},{"c":232.5,"a":2.63,"v":2.7},{"c":247.5,"a":2.63,"v":3},{"c":262.5,"a":2.63,"v":3.3},{"c":277.5,"a":2.63,"v":3.1},{"c":292.5,"a":2.63,"v":2.4},{"c":307.5,"a":2.63,"v":1.8},{"c":322.5,"a":2.63,"v":1.9},{"c":337.5,"a":2.63,"v":2.3},{"c":352.5,"a":2.63,"v":2.6},
{"c":7.5,"a":2.38,"v":2.6},{"c":22.5,"a":2.38,"v":2.7},{"c":37.5,"a":2.38,"v":2.7},{"c":52.5,"a":2.38,"v":2.8},{"c":67.5,"a":2.38,"v":2.9},{"c":82.5,"a":2.38,"v":3},{"c":97.5,"a":2.38,"v":3},{"c":112.5,"a":2.38,"v":2.9},{"c":127.5,"a":2.38,"v":3.3},{"c":142.5,"a":2.38,"v":4},{"c":157.5,"a":2.38,"v":4.6},{"c":172.5,"a":2.38,"v":4.8},{"c":187.5,"a":2.38,"v":4.1},{"c":202.5,"a":2.38,"v":3.1},{"c":217.5,"a":2.38,"v":2.4},{"c":232.5,"a":2.38,"v":2.4},{"c":247.5,"a":2.38,"v":2.7},{"c":262.5,"a":2.38,"v":2.9},{"c":277.5,"a":2.38,"v":2.6},{"c":292.5,"a":2.38,"v":2.1},{"c":307.5,"a":2.38,"v":1.6},{"c":322.5,"a":2.38,"v":1.6},{"c":337.5,"a":2.38,"v":2},{"c":352.5,"a":2.38,"v":2.2},
{"c":7.5,"a":2.13,"v":2.1},{"c":22.5,"a":2.13,"v":2.3},{"c":37.5,"a":2.13,"v":2.3},{"c":52.5,"a":2.13,"v":2.4},{"c":67.5,"a":2.13,"v":2.5},{"c":82.5,"a":2.13,"v":2.5},{"c":97.5,"a":2.13,"v":2.5},{"c":112.5,"a":2.13,"v":2.4},{"c":127.5,"a":2.13,"v":2.8},{"c":142.5,"a":2.13,"v":3.3},{"c":157.5,"a":2.13,"v":3.8},{"c":172.5,"a":2.13,"v":3.9},{"c":187.5,"a":2.13,"v":3.4},{"c":202.5,"a":2.13,"v":2.7},{"c":217.5,"a":2.13,"v":2.2},{"c":232.5,"a":2.13,"v":2.2},{"c":247.5,"a":2.13,"v":2.3},{"c":262.5,"a":2.13,"v":2.5},{"c":277.5,"a":2.13,"v":2.2},{"c":292.5,"a":2.13,"v":1.8},{"c":307.5,"a":2.13,"v":1.4},{"c":322.5,"a":2.13,"v":1.4},{"c":337.5,"a":2.13,"v":1.6},{"c":352.5,"a":2.13,"v":1.8},
{"c":7.5,"a":1.88,"v":1.8},{"c":22.5,"a":1.88,"v":1.9},{"c":37.5,"a":1.88,"v":1.9},{"c":52.5,"a":1.88,"v":2},{"c":67.5,"a":1.88,"v":2.1},{"c":82.5,"a":1.88,"v":2.1},{"c":97.5,"a":1.88,"v":2},{"c":112.5,"a":1.88,"v":2},{"c":127.5,"a":1.88,"v":2.4},{"c":142.5,"a":1.88,"v":2.8},{"c":157.5,"a":1.88,"v":3.1},{"c":172.5,"a":1.88,"v":3.3},{"c":187.5,"a":1.88,"v":2.9},{"c":202.5,"a":1.88,"v":2.3},{"c":217.5,"a":1.88,"v":1.9},{"c":232.5,"a":1.88,"v":1.9},{"c":247.5,"a":1.88,"v":2},{"c":262.5,"a":1.88,"v":2.1},{"c":277.5,"a":1.88,"v":1.9},{"c":292.5,"a":1.88,"v":1.5},{"c":307.5,"a":1.88,"v":1.2},{"c":322.5,"a":1.88,"v":1.2},{"c":337.5,"a":1.88,"v":1.4},{"c":352.5,"a":1.88,"v":1.5},
{"c":7.5,"a":1.63,"v":1.5},{"c":22.5,"a":1.63,"v":1.6},{"c":37.5,"a":1.63,"v":1.6},{"c":52.5,"a":1.63,"v":1.6},{"c":67.5,"a":1.63,"v":1.6},{"c":82.5,"a":1.63,"v":1.5},{"c":97.5,"a":1.63,"v":1.5},{"c":112.5,"a":1.63,"v":1.6},{"c":127.5,"a":1.63,"v":2},{"c":142.5,"a":1.63,"v":2.3},{"c":157.5,"a":1.63,"v":2.6},{"c":172.5,"a":1.63,"v":2.7},{"c":187.5,"a":1.63,"v":2.4},{"c":202.5,"a":1.63,"v":2},{"c":217.5,"a":1.63,"v":1.6},{"c":232.5,"a":1.63,"v":1.6},{"c":247.5,"a":1.63,"v":1.6},{"c":262.5,"a":1.63,"v":1.6},{"c":277.5,"a":1.63,"v":1.5},{"c":292.5,"a":1.63,"v":1.2},{"c":307.5,"a":1.63,"v":1},{"c":322.5,"a":1.63,"v":1},{"c":337.5,"a":1.63,"v":1.2},{"c":352.5,"a":1.63,"v":1.2},
{"c":7.5,"a":1.38,"v":1.2},{"c":22.5,"a":1.38,"v":1.2},{"c":37.5,"a":1.38,"v":1.2},{"c":52.5,"a":1.38,"v":1.2},{"c":67.5,"a":1.38,"v":1.1},{"c":82.5,"a":1.38,"v":1},{"c":97.5,"a":1.38,"v":1},{"c":112.5,"a":1.38,"v":1.2},{"c":127.5,"a":1.38,"v":1.5},{"c":142.5,"a":1.38,"v":1.8},{"c":157.5,"a":1.38,"v":2},{"c":172.5,"a":1.38,"v":2.1},{"c":187.5,"a":1.38,"v":1.9},{"c":202.5,"a":1.38,"v":1.6},{"c":217.5,"a":1.38,"v":1.3},{"c":232.5,"a":1.38,"v":1.2},{"c":247.5,"a":1.38,"v":1.2},{"c":262.5,"a":1.38,"v":1.1},{"c":277.5,"a":1.38,"v":1},{"c":292.5,"a":1.38,"v":0.8},{"c":307.5,"a":1.38,"v":0.8},{"c":322.5,"a":1.38,"v":0.9},{"c":337.5,"a":1.38,"v":0.9},{"c":352.5,"a":1.38,"v":0.9},
{"c":7.5,"a":1.13,"v":0.9},{"c":22.5,"a":1.13,"v":0.9},{"c":37.5,"a":1.13,"v":0.9},{"c":52.5,"a":1.13,"v":0.8},{"c":67.5,"a":1.13,"v":0.6},{"c":82.5,"a":1.13,"v":0.5},{"c":97.5,"a":1.13,"v":0.4},{"c":112.5,"a":1.13,"v":0.7},{"c":127.5,"a":1.13,"v":1.1},{"c":142.5,"a":1.13,"v":1.3},{"c":157.5,"a":1.13,"v":1.4},{"c":172.5,"a":1.13,"v":1.5},{"c":187.5,"a":1.13,"v":1.4},{"c":202.5,"a":1.13,"v":1.2},{"c":217.5,"a":1.13,"v":0.9},{"c":232.5,"a":1.13,"v":0.8},{"c":247.5,"a":1.13,"v":0.7},{"c":262.5,"a":1.13,"v":0.6},{"c":277.5,"a":1.13,"v":0.5},{"c":292.5,"a":1.13,"v":0.4},{"c":307.5,"a":1.13,"v":0.5},{"c":322.5,"a":1.13,"v":0.6},{"c":337.5,"a":1.13,"v":0.6},{"c":352.5,"a":1.13,"v":0.5}]},
"hconcat":[{"width":1084,"height":1000,"resolve":{"axis":{"x":"independent","y":"independent"}},"layer":[{"data":{"name":"ha"},"mark":{"type":"rect","width":46,"height":17.5},"encoding":{"x":{"field":"c","type":"quantitative","scale":{"domain":[0,360],"nice":false},"axis":{"orient":"bottom","values":[0,90,180,270,360],"tickSize":-12,"labelPadding":28,"title":"Circumferential [deg.]","titlePadding":4,"titleX":510}},"y":{"field":"a","type":"quantitative","scale":{"domain":[0,15],"nice":false},"axis":{"orient":"left","values":[0,5,10,15],"tickSize":-12,"labelPadding":31,"title":"Axial [cm]","titlePadding":26}},"color":{"field":"v","type":"quantitative","legend":null,"scale":{"type":"linear","interpolate":"rgb","domain":[0.023,0.357,0.93,1.0,1.23,1.25,1.37,1.5,2.03,2.21,2.41],"range":["#00007F","#0000FF","#00FFFF","#00FFFF","#00FF66","#55FF55","#AAFF00","#FFFF00","#FF0000","#FF0000","#8B0000"]}}}},{"data":{"values":[{}]},"mark":{"type":"text","text":"(","font":"Liberation Serif","fontSize":84,"align":"center","baseline":"middle"},"encoding":{"x":{"datum":190,"type":"quantitative","axis":{"orient":"top","values":[0,90,180,270,360],"tickSize":-12,"labels":false,"title":null}},"y":{"datum":-3.05,"type":"quantitative","axis":{"orient":"right","values":[0,5,10,15],"tickSize":-12,"labels":false,"title":null}}}},{"data":{"values":[{}]},"mark":{"type":"text","text":"a","font":"Liberation Serif","fontWeight":"bold","fontSize":84,"align":"center","baseline":"middle"},"encoding":{"x":{"datum":201,"type":"quantitative","axis":null},"y":{"datum":-3.05,"type":"quantitative","axis":null}}},{"data":{"values":[{}]},"mark":{"type":"text","text":")","font":"Liberation Serif","fontSize":84,"align":"center","baseline":"middle"},"encoding":{"x":{"datum":212,"type":"quantitative","axis":null},"y":{"datum":-3.05,"type":"quantitative","axis":null}}}]},{"width":95,"height":1000,"resolve":{"axis":{"y":"independent"}},"layer":[{"data":{"values":[{"v":0.04},{"v":0.08},{"v":0.12},{"v":0.15},{"v":0.19},{"v":0.23},{"v":0.27},{"v":0.3},{"v":0.34},{"v":0.38},{"v":0.42},{"v":0.45},{"v":0.49},{"v":0.53},{"v":0.56},{"v":0.6},{"v":0.64},{"v":0.68},{"v":0.71},{"v":0.75},{"v":0.79},{"v":0.83},{"v":0.86},{"v":0.9},{"v":0.94},{"v":0.97},{"v":1.01},{"v":1.05},{"v":1.09},{"v":1.12},{"v":1.16},{"v":1.2},{"v":1.24},{"v":1.27},{"v":1.31},{"v":1.35},{"v":1.38},{"v":1.42},{"v":1.46},{"v":1.5},{"v":1.53},{"v":1.57},{"v":1.61},{"v":1.64},{"v":1.68},{"v":1.72},{"v":1.76},{"v":1.79},{"v":1.83},{"v":1.87},{"v":1.91},{"v":1.94},{"v":1.98},{"v":2.02},{"v":2.05},{"v":2.09},{"v":2.13},{"v":2.17},{"v":2.2},{"v":2.24},{"v":2.28},{"v":2.32},{"v":2.35},{"v":2.39}]},"mark":{"type":"rect","height":16.5},"encoding":{"y":{"field":"v","type":"quantitative","scale":{"domain":[0.023,2.41],"nice":false},"axis":{"orient":"right","values":[0.5,1,1.5,2],"format":"~g","tickSize":-10,"labelPadding":28,"title":null}},"color":{"field":"v","type":"quantitative","legend":null,"scale":{"type":"linear","interpolate":"rgb","domain":[0.023,0.357,0.93,1.0,1.23,1.25,1.37,1.5,2.03,2.21,2.41],"range":["#00007F","#0000FF","#00FFFF","#00FFFF","#00FF66","#55FF55","#AAFF00","#FFFF00","#FF0000","#FF0000","#8B0000"]}}}},{"data":{"values":[{}]},"mark":{"type":"text","text":"[m/s]","fontSize":61,"align":"left","baseline":"middle"},"encoding":{"x":{"datum":-0.44,"type":"quantitative","scale":{"domain":[0,1],"nice":false},"axis":null},"y":{"datum":2.505,"type":"quantitative","axis":{"orient":"left","values":[0.5,1,1.5,2],"tickSize":-10,"labels":false,"title":null}}}},{"data":{"values":[{}]},"mark":{"type":"text","text":"x 10","fontSize":53,"align":"left","baseline":"middle"},"encoding":{"x":{"datum":0.98,"type":"quantitative","axis":null},"y":{"datum":2.5,"type":"quantitative","axis":null}}},{"data":{"values":[{}]},"mark":{"type":"text","text":"-4","fontSize":34,"align":"left","baseline":"middle"},"encoding":{"x":{"datum":2.07,"type":"quantitative","axis":null},"y":{"datum":2.563,"type":"quantitative","axis":null}}}]},{"width":357,"height":1000,"view":{"stroke":null},"data":{"values":[]},"mark":{"type":"rect"},"encoding":{}},{"width":1084,"height":1000,"resolve":{"axis":{"x":"independent","y":"independent"}},"layer":[{"data":{"name":"hb"},"mark":{"type":"rect","width":46,"height":17.5},"encoding":{"x":{"field":"c","type":"quantitative","scale":{"domain":[0,360],"nice":false},"axis":{"orient":"bottom","values":[0,90,180,270,360],"tickSize":-12,"labelPadding":28,"title":"Circumferential [deg.]","titlePadding":4,"titleX":510}},"y":{"field":"a","type":"quantitative","scale":{"domain":[0,15],"nice":false},"axis":{"orient":"left","values":[0,5,10,15],"tickSize":-12,"labelPadding":31,"title":"Axial [cm]","titlePadding":26}},"color":{"field":"v","type":"quantitative","legend":null,"scale":{"type":"linear","interpolate":"rgb","domain":[0.13,2.8,7.37,7.94,9.75,9.94,10.89,11.94,16.13,17.56,19.18],"range":["#00007F","#0000FF","#00FFFF","#00FFFF","#00FF66","#55FF55","#AAFF00","#FFFF00","#FF0000","#FF0000","#8B0000"]}}}},{"data":{"values":[{}]},"mark":{"type":"text","text":"(","font":"Liberation Serif","fontSize":84,"align":"center","baseline":"middle"},"encoding":{"x":{"datum":190,"type":"quantitative","axis":{"orient":"top","values":[0,90,180,270,360],"tickSize":-12,"labels":false,"title":null}},"y":{"datum":-3.05,"type":"quantitative","axis":{"orient":"right","values":[0,5,10,15],"tickSize":-12,"labels":false,"title":null}}}},{"data":{"values":[{}]},"mark":{"type":"text","text":"b","font":"Liberation Serif","fontWeight":"bold","fontSize":84,"align":"center","baseline":"middle"},"encoding":{"x":{"datum":201,"type":"quantitative","axis":null},"y":{"datum":-3.05,"type":"quantitative","axis":null}}},{"data":{"values":[{}]},"mark":{"type":"text","text":")","font":"Liberation Serif","fontSize":84,"align":"center","baseline":"middle"},"encoding":{"x":{"datum":212,"type":"quantitative","axis":null},"y":{"datum":-3.05,"type":"quantitative","axis":null}}}]},{"width":95,"height":1000,"resolve":{"axis":{"y":"independent"}},"layer":[{"data":{"values":[{"v":0.28},{"v":0.58},{"v":0.87},{"v":1.17},{"v":1.47},{"v":1.77},{"v":2.06},{"v":2.36},{"v":2.66},{"v":2.96},{"v":3.26},{"v":3.55},{"v":3.85},{"v":4.15},{"v":4.45},{"v":4.75},{"v":5.04},{"v":5.34},{"v":5.64},{"v":5.94},{"v":6.23},{"v":6.53},{"v":6.83},{"v":7.13},{"v":7.43},{"v":7.72},{"v":8.02},{"v":8.32},{"v":8.62},{"v":8.92},{"v":9.21},{"v":9.51},{"v":9.81},{"v":10.11},{"v":10.4},{"v":10.7},{"v":11.0},{"v":11.3},{"v":11.6},{"v":11.89},{"v":12.19},{"v":12.49},{"v":12.79},{"v":13.09},{"v":13.38},{"v":13.68},{"v":13.98},{"v":14.28},{"v":14.57},{"v":14.87},{"v":15.17},{"v":15.47},{"v":15.77},{"v":16.06},{"v":16.36},{"v":16.66},{"v":16.96},{"v":17.25},{"v":17.55},{"v":17.85},{"v":18.15},{"v":18.45},{"v":18.74},{"v":19.04}]},"mark":{"type":"rect","height":16.5},"encoding":{"y":{"field":"v","type":"quantitative","scale":{"domain":[0.13,19.18],"nice":false},"axis":{"orient":"right","values":[2,4,6,8,10,12,14,16,18],"tickSize":-10,"labelPadding":28,"title":null}},"color":{"field":"v","type":"quantitative","legend":null,"scale":{"type":"linear","interpolate":"rgb","domain":[0.13,2.8,7.37,7.94,9.75,9.94,10.89,11.94,16.13,17.56,19.18],"range":["#00007F","#0000FF","#00FFFF","#00FFFF","#00FF66","#55FF55","#AAFF00","#FFFF00","#FF0000","#FF0000","#8B0000"]}}}},{"data":{"values":[{}]},"mark":{"type":"text","text":"[m/s]","fontSize":61,"align":"left","baseline":"middle"},"encoding":{"x":{"datum":-0.54,"type":"quantitative","scale":{"domain":[0,1],"nice":false},"axis":null},"y":{"datum":19.98,"type":"quantitative","axis":{"orient":"left","values":[2,4,6,8,10,12,14,16,18],"tickSize":-10,"labels":false,"title":null}}}},{"data":{"values":[{}]},"mark":{"type":"text","text":"x 10","fontSize":53,"align":"left","baseline":"middle"},"encoding":{"x":{"datum":0.97,"type":"quantitative","axis":null},"y":{"datum":19.92,"type":"quantitative","axis":null}}},{"data":{"values":[{}]},"mark":{"type":"text","text":"-5","fontSize":34,"align":"left","baseline":"middle"},"encoding":{"x":{"datum":2.07,"type":"quantitative","axis":null},"y":{"datum":20.44,"type":"quantitative","axis":null}}}]}]}
